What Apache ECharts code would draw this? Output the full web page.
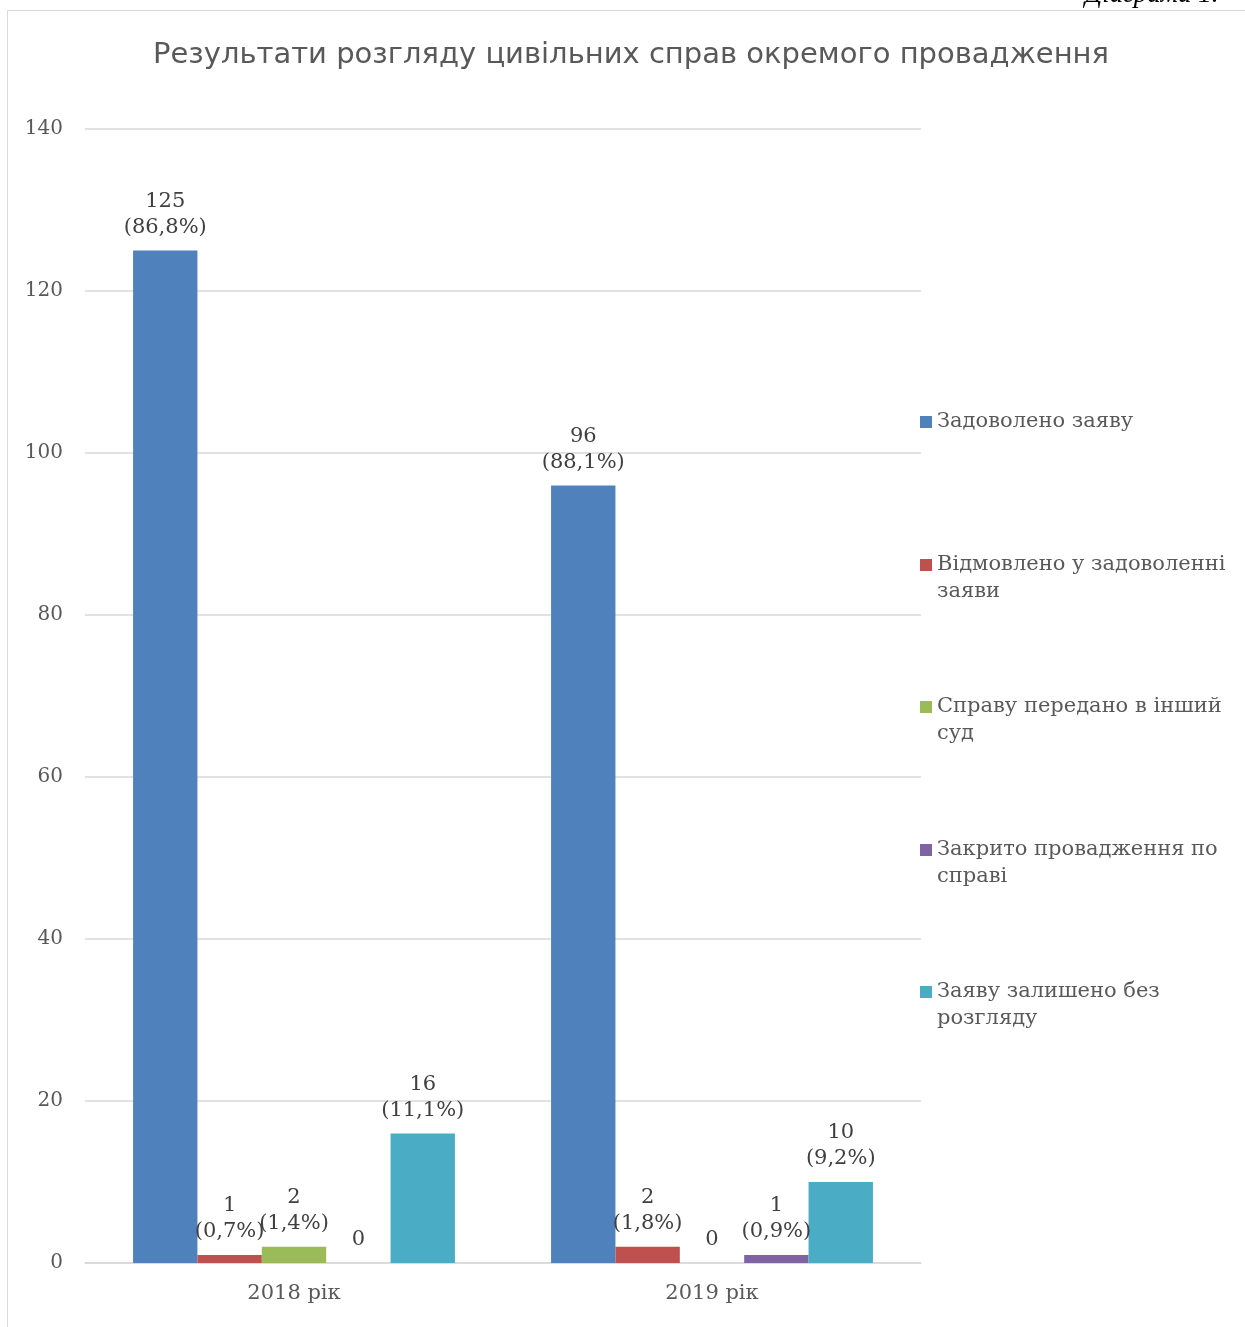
<!DOCTYPE html>
<html>
<head>
<meta charset="utf-8">
<script src="https://cdn.jsdelivr.net/npm/echarts@6/dist/echarts.min.js"></script>
<style>
html,body{margin:0;padding:0;background:#fff;}
#chart{width:1245px;height:1327px;}
</style>
</head>
<body>
<div id="chart"></div>
<script>
const categories = ['2018 рік', '2019 рік'];
const seriesNames = [
  'Задоволено заяву',
  'Відмовлено у задоволенні заяви',
  'Справу передано в інший суд',
  'Закрито провадження по справі',
  'Заяву залишено без розгляду'
];
const legendLabels = [
  'Задоволено заяву',
  'Відмовлено у задоволенні\nзаяви',
  'Справу передано в інший\nсуд',
  'Закрито провадження по\nсправі',
  'Заяву залишено без\nрозгляду'
];
const satisfied = [125, 96];
const refused = [1, 2];
const transferred = [2, 0];
const closed = [0, 1];
const leftWithout = [16, 10];
const satisfiedPct = ['86,8%', '88,1%'];
const refusedPct = ['0,7%', '1,8%'];
const transferredPct = ['1,4%', ''];
const closedPct = ['', '0,9%'];
const leftWithoutPct = ['11,1%', '9,2%'];
const yTicks = [0, 20, 40, 60, 80, 100, 120, 140];

const values = [satisfied, refused, transferred, closed, leftWithout];
const pcts = [satisfiedPct, refusedPct, transferredPct, closedPct, leftWithoutPct];
const colors = ['#4F81BD', '#C0504D', '#9BBB59', '#8064A2', '#4BACC6'];
const serif = '"DejaVu Serif", "Liberation Serif", serif';

const chart = echarts.init(document.getElementById('chart'));

const series = seriesNames.map((name, i) => ({
  name: name,
  type: 'bar',
  data: values[i],
  barGap: '0%',
  barCategoryGap: '23%',
  itemStyle: { color: colors[i] },
  label: {
    show: true,
    position: 'top',
    distance: 10,
    color: '#404040',
    fontFamily: serif,
    fontSize: 21,
    lineHeight: 26,
    formatter: function (p) {
      const pc = pcts[i][p.dataIndex];
      return pc ? p.value + '\n(' + pc + ')' : String(p.value);
    }
  }
}));

// first text line centres (px) of each legend entry
const legendLineY = [422, 565, 707, 850, 992];
const LH = 27;
const legends = seriesNames.map((name, i) => {
  const lines = legendLabels[i].split('\n').length;
  const h = LH * lines;
  const icon = 'path://M0,0L0.01,0M0,7.5L12,7.5L12,19.5L0,19.5ZM0,' + h + 'L0.01,' + h;
  return {
    data: [{ name: name, icon: icon }],
    orient: 'vertical',
    left: 920,
    top: legendLineY[i] - LH / 2,
    itemWidth: 12,
    itemHeight: h,
    itemGap: 0,
    padding: 0,
    selectedMode: false,
    formatter: function () { return legendLabels[i]; },
    textStyle: {
      color: '#595959',
      fontFamily: serif,
      fontSize: 21,
      lineHeight: LH
    }
  };
});

chart.setOption({
  backgroundColor: '#ffffff',
  animation: false,
  title: {
    text: 'Результати розгляду цивільних справ окремого провадження',
    left: 626,
    textAlign: 'center',
    top: 36,
    textStyle: {
      color: '#595959',
      fontFamily: '"DejaVu Sans", "Open Sans", sans-serif',
      fontSize: 29,
      fontWeight: 'normal'
    }
  },
  graphic: [
    {
      type: 'rect',
      shape: { x: 7.5, y: 10.5, width: 1300, height: 1400 },
      style: { fill: 'none', stroke: '#D9D9D9', lineWidth: 1 },
      silent: true
    },
    {
      type: 'text',
      left: 1085,
      top: -19,
      style: {
        text: 'Діаграма 1.',
        fill: '#000',
        font: 'italic 27px "Liberation Serif", serif'
      },
      silent: true
    }
  ],
  legend: legends,
  grid: { left: 85, right: 324, top: 129, bottom: 64 },
  xAxis: {
    type: 'category',
    data: categories,
    axisTick: { show: false },
    axisLine: { lineStyle: { color: '#D9D9D9', width: 1.5 } },
    axisLabel: {
      color: '#595959',
      fontFamily: serif,
      fontSize: 21,
      margin: 20
    }
  },
  yAxis: {
    type: 'value',
    min: yTicks[0],
    max: yTicks[yTicks.length - 1],
    interval: 20,
    axisLine: { show: false },
    axisTick: { show: false },
    splitLine: { lineStyle: { color: '#D9D9D9', width: 1.5 } },
    axisLabel: {
      color: '#595959',
      fontFamily: serif,
      fontSize: 20,
      margin: 22,
      padding: [6, 0, 0, 0]
    }
  },
  series: series
});
</script>
</body>
</html>
